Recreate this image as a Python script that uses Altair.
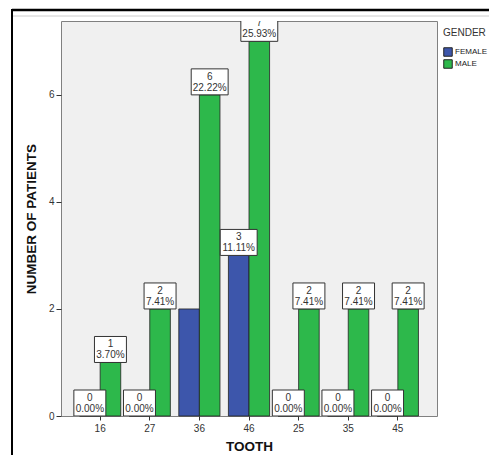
import altair as alt
import pandas as pd

teeth = ["16", "27", "36", "46", "25", "35", "45"]
female_counts = [0, 0, 2, 3, 0, 0, 0]
male_counts = [1, 2, 6, 7, 2, 2, 2]
female_pct = ["0.00%", "0.00%", "22.22%", "11.11%", "0.00%", "0.00%", "0.00%"]
male_pct = ["3.70%", "7.41%", "22.22%", "25.93%", "7.41%", "7.41%", "7.41%"]
female_label_shown = [True, True, False, True, True, True, True]
male_label_shown = [True, True, True, True, True, True, True]
genders = ["FEMALE", "MALE"]
colors = ["#3d56ab", "#2db84b"]

rows = []
for i, t in enumerate(teeth):
    rows.append(dict(tooth=t, gender="FEMALE", count=female_counts[i],
                     pct=female_pct[i], show=female_label_shown[i]))
    rows.append(dict(tooth=t, gender="MALE", count=male_counts[i],
                     pct=male_pct[i], show=male_label_shown[i]))
df = pd.DataFrame(rows)

W, H = 376, 395

x_enc = alt.X("tooth:N", sort=teeth,
              scale=alt.Scale(paddingInner=0.17, paddingOuter=0.374),
              axis=alt.Axis(title="TOOTH", labelAngle=0, labelFontSize=10,
                            labelColor="#333333", labelFont="Liberation Sans",
                            tickSize=4, tickColor="#333333", domain=False,
                            labelPadding=3, titleFontSize=13.5,
                            titleFont="Liberation Sans", titleFontWeight="bold",
                            titleColor="#111111", titlePadding=6))
xo_enc = alt.XOffset("gender:N", sort=genders,
                     scale=alt.Scale(paddingInner=0, paddingOuter=0))
y_enc = alt.Y("count:Q", scale=alt.Scale(domain=[0, 7.38], nice=False),
              axis=alt.Axis(title="NUMBER OF PATIENTS", values=[0, 2, 4, 6],
                            grid=False, domain=False, tickSize=5,
                            tickColor="#333333", labelFontSize=10,
                            labelColor="#333333", labelFont="Liberation Sans",
                            labelPadding=2, titleFontSize=13.5,
                            titleFont="Liberation Sans", titleFontWeight="bold",
                            titleColor="#111111", titlePadding=10))

base = alt.Chart(df)

bars = base.mark_bar(stroke="#222222", strokeWidth=0.8, opacity=1).encode(
    x=x_enc, xOffset=xo_enc, y=y_enc,
    color=alt.Color("gender:N", sort=genders,
                    scale=alt.Scale(domain=genders, range=colors),
                    legend=alt.Legend(title="GENDER", orient="none",
                                      legendX=382, legendY=7,
                                      symbolType="square", symbolSize=72,
                                      symbolStrokeColor="#222222",
                                      symbolStrokeWidth=1,
                                      titleFontSize=10, titleFontWeight="normal",
                                      titleColor="#333333",
                                      titleFont="Liberation Sans",
                                      labelFontSize=8, labelColor="#222222",
                                      labelFont="Liberation Sans",
                                      titlePadding=9, rowPadding=-3,
                                      labelOffset=2, padding=0)),
)

labels = base.transform_filter("datum.show").transform_calculate(
    shp="length(datum.pct) > 5 ? 'M-1.42,-1H1.42V1H-1.42Z' : 'M-1.23,-1H1.23V1H-1.23Z'"
)

boxes = labels.mark_point(filled=True, fill="white", stroke="#333333",
                          strokeWidth=1, opacity=1, size=676, yOffset=-13,
                          clip=True).encode(
    x=alt.X("tooth:N", sort=teeth), xOffset=alt.XOffset("gender:N", sort=genders),
    y=alt.Y("count:Q"),
    shape=alt.Shape("shp:N", scale=None),
)

count_text = labels.mark_text(fontSize=10, font="Liberation Sans",
                              color="#333333", dy=-18, clip=True).encode(
    x=alt.X("tooth:N", sort=teeth), xOffset=alt.XOffset("gender:N", sort=genders),
    y=alt.Y("count:Q"), text=alt.Text("count:Q"),
)
pct_text = labels.mark_text(fontSize=10, font="Liberation Sans",
                            color="#333333", dy=-7, clip=True).encode(
    x=alt.X("tooth:N", sort=teeth), xOffset=alt.XOffset("gender:N", sort=genders),
    y=alt.Y("count:Q"), text=alt.Text("pct:N"),
)

frame_top = alt.Chart(pd.DataFrame({"a": [0]})).mark_rule(
    color="black", strokeWidth=2.5).encode(
    x=alt.value(-49), x2=alt.value(440), y=alt.value(-11))
frame_left = alt.Chart(pd.DataFrame({"a": [0]})).mark_rule(
    color="black", strokeWidth=2).encode(
    x=alt.value(-49), y=alt.value(-12), y2=alt.value(450))
frame_gray = alt.Chart(pd.DataFrame({"a": [0]})).mark_rule(
    color="#cccccc", strokeWidth=1).encode(
    x=alt.value(-48), x2=alt.value(440), y=alt.value(-5))

chart = alt.layer(bars, boxes, count_text, pct_text,
                  frame_top, frame_left, frame_gray).properties(
    width=W, height=H,
    autosize=alt.AutoSizeParams(type="none"),
    padding={"left": 53, "top": 13, "right": 52, "bottom": 39},
    background="white",
).configure_view(fill="#f0f0f0", stroke="#808080", strokeWidth=1)

chart.save("out.html", embed_options={"renderer": "svg", "actions": False})
